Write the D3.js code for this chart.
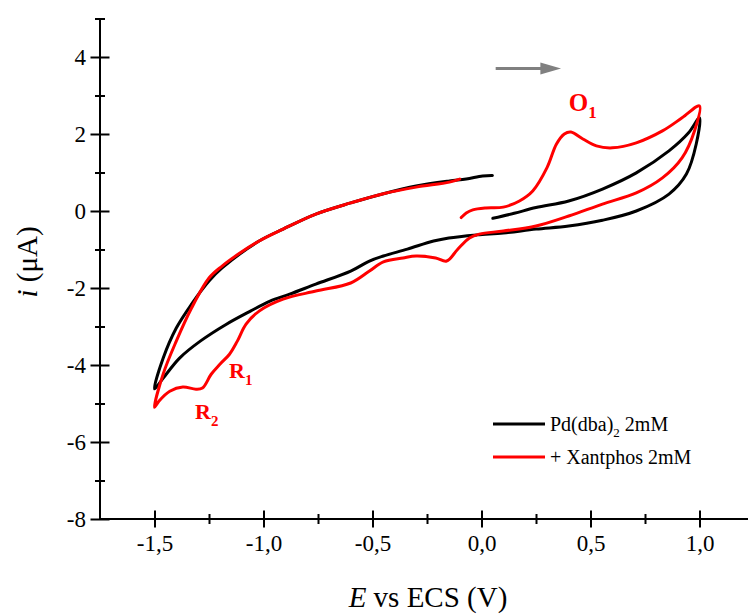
<!DOCTYPE html>
<html><head><meta charset="utf-8">
<script src="https://cdn.jsdelivr.net/npm/d3@7"></script>
<style>
body{margin:0;background:#fff;}
svg text{font-family:"Liberation Serif","Times New Roman",serif;}
</style></head>
<body><svg id="c" width="748" height="614"></svg>
<script>
// ---- data (E in V vs ECS, i in µA), in scan order ----
const blackV = [0.052,0.15,0.25,0.40,0.555,0.71,0.86,0.95,1.0,
  0.985,0.94,0.86,0.71,0.555,0.40,0.25,0.10,-0.02,-0.15,-0.22,-0.34,-0.45,-0.514,-0.60,-0.76,-0.88,-0.97,-1.06,-1.17,-1.29,-1.385,-1.46,-1.50,
  -1.46,-1.40,-1.33,-1.25,-1.19,-1.02,-0.91,-0.76,-0.60,-0.45,-0.30,-0.147,-0.07,0.005,0.05];
const blackI = [-0.19,-0.06,0.09,0.26,0.57,0.99,1.56,2.03,2.42,
  1.74,0.96,0.44,0.0,-0.24,-0.39,-0.47,-0.57,-0.62,-0.70,-0.78,-0.99,-1.17,-1.30,-1.56,-1.90,-2.16,-2.34,-2.60,-2.94,-3.38,-3.82,-4.34,-4.62,
  -3.82,-3.04,-2.42,-1.82,-1.48,-0.78,-0.47,-0.08,0.21,0.45,0.65,0.78,0.83,0.91,0.92];
const redV = [-0.093,-0.07,-0.04,0.02,0.10,0.174,0.235,0.30,0.344,0.38,0.41,0.465,0.527,0.60,0.71,0.83,0.92,1.0,
  0.977,0.92,0.83,0.71,0.555,0.40,0.25,0.10,-0.01,-0.055,-0.11,-0.16,-0.21,-0.30,-0.36,-0.45,-0.514,-0.60,-0.76,-0.91,-1.02,-1.08,-1.12,-1.156,-1.20,-1.24,-1.28,-1.31,-1.37,-1.43,-1.48,-1.50,
  -1.46,-1.40,-1.33,-1.25,-1.19,-1.11,-1.02,-0.91,-0.76,-0.60,-0.45,-0.30,-0.147,-0.10];
const redI = [-0.17,-0.05,0.03,0.08,0.10,0.26,0.52,1.12,1.74,2.0,2.05,1.87,1.69,1.64,1.77,2.08,2.42,2.73,
  2.08,1.38,0.86,0.47,0.18,-0.13,-0.39,-0.52,-0.60,-0.70,-1.0,-1.30,-1.22,-1.17,-1.22,-1.32,-1.56,-1.87,-2.08,-2.29,-2.60,-2.94,-3.38,-3.72,-3.98,-4.24,-4.60,-4.63,-4.57,-4.68,-4.94,-5.10,
  -4.23,-3.38,-2.52,-1.74,-1.43,-1.10,-0.78,-0.47,-0.08,0.21,0.45,0.62,0.75,0.83];
const xMajor = [-1.5,-1.0,-0.5,0.0,0.5,1.0];
const xMinor = [-1.25,-0.75,-0.25,0.25,0.75,1.25];
const yMajor = [-8,-6,-4,-2,0,2,4];
const yMinor = [-7,-5,-3,-1,1,3,5];
const seriesNames = ["Pd(dba)", "+ Xantphos 2mM"];
const seriesColors = ["#000000", "#ff0000"];

const svg = d3.select("#c");
const x = d3.scaleLinear().domain([-1.75, 1.25]).range([100, 754]);
const y = d3.scaleLinear().domain([-8, 5]).range([519, 18.5]);
const fmt = d => d3.format(".1f")(d).replace(".", ",").replace("−","-");

// y axis
const gy = svg.append("g").attr("transform","translate(100,0)")
  .call(d3.axisLeft(y).tickValues(yMajor).tickSize(0).tickPadding(14).tickFormat(d=>String(d)));
gy.select(".domain").attr("stroke","#000").attr("stroke-width",2).attr("d",`M0,${y(5)}V${y(-8)}`);
gy.selectAll(".tick line").attr("x1",-9.5).attr("x2",9.5).attr("stroke","#000").attr("stroke-width",2);
gy.selectAll(".tick text").attr("font-size",23).attr("font-family","Liberation Serif").attr("fill","#000");
const gy2 = svg.append("g").attr("transform","translate(100,0)")
  .call(d3.axisLeft(y).tickValues(yMinor).tickSize(0).tickFormat(""));
gy2.select(".domain").remove();
gy2.selectAll(".tick line").attr("x1",-5).attr("x2",5).attr("stroke","#000").attr("stroke-width",2);

// x axis
const gx = svg.append("g").attr("transform","translate(0,519)")
  .call(d3.axisBottom(x).tickValues(xMajor).tickSize(0).tickPadding(16).tickFormat(fmt));
gx.select(".domain").attr("stroke","#000").attr("stroke-width",2).attr("d","M99,0H754");
gx.selectAll(".tick line").attr("y1",-8.5).attr("y2",8.5).attr("stroke","#000").attr("stroke-width",2);
gx.selectAll(".tick text").attr("font-size",23).attr("font-family","Liberation Serif").attr("fill","#000");
const gx2 = svg.append("g").attr("transform","translate(0,519)")
  .call(d3.axisBottom(x).tickValues(xMinor).tickSize(0).tickFormat(""));
gx2.select(".domain").remove();
gx2.selectAll(".tick line").attr("y1",-5).attr("y2",5).attr("stroke","#000").attr("stroke-width",2);

// axis titles
const xt = svg.append("text").attr("x",428).attr("y",607).attr("text-anchor","middle")
  .attr("font-size",29).attr("fill","#000");
xt.append("tspan").attr("font-style","italic").text("E");
xt.append("tspan").text(" vs ECS (V)");
const yt = svg.append("text").attr("transform","translate(37,262) rotate(-90)").attr("text-anchor","middle")
  .attr("font-size",29).attr("fill","#000");
yt.append("tspan").attr("font-style","italic").text("i");
yt.append("tspan").text(" (μA)");

// curves
const line = d3.line().x(d=>x(d[0])).y(d=>y(d[1])).curve(d3.curveCatmullRom.alpha(0.5));
const blackPts = d3.zip(blackV, blackI);
const redPts = d3.zip(redV, redI);
svg.append("path").attr("d", line(blackPts)).attr("fill","none").attr("stroke",seriesColors[0])
  .attr("stroke-width",3).attr("stroke-linejoin","round").attr("stroke-linecap","round");
svg.append("path").attr("d", line(redPts)).attr("fill","none").attr("stroke",seriesColors[1])
  .attr("stroke-width",3).attr("stroke-linejoin","round").attr("stroke-linecap","round");

// scan direction arrow
const ay = y(3.7);
svg.append("line").attr("x1",x(0.065)).attr("x2",x(0.28)).attr("y1",ay).attr("y2",ay)
  .attr("stroke","#808080").attr("stroke-width",3);
svg.append("path").attr("d",`M${x(0.27)},${ay-6}L${x(0.365)},${ay}L${x(0.27)},${ay+6}Z`).attr("fill","#808080");

// peak labels
function peak(label, sub, v, i, size){
  const t = svg.append("text").attr("x",x(v)).attr("y",y(i)).attr("fill","#ff0000")
    .attr("font-size",size).attr("font-weight","bold");
  t.append("tspan").text(label);
  t.append("tspan").attr("dy",7).attr("font-size",size*0.68).text(sub);
}
peak("O","1",0.40,2.6,25);
peak("R","1",-1.158,-4.34,22);
peak("R","2",-1.314,-5.4,22);

// legend
const lg = svg.append("g");
lg.append("line").attr("x1",493).attr("x2",545).attr("y1",424).attr("y2",424).attr("stroke",seriesColors[0]).attr("stroke-width",3);
lg.append("line").attr("x1",493).attr("x2",545).attr("y1",457).attr("y2",457).attr("stroke",seriesColors[1]).attr("stroke-width",3);
const l1 = lg.append("text").attr("x",550).attr("y",431).attr("font-size",20).attr("fill","#000");
l1.append("tspan").text(seriesNames[0]);
l1.append("tspan").attr("dy",6).attr("font-size",13).text("2");
l1.append("tspan").attr("dy",-6).text(" 2mM");
lg.append("text").attr("x",550).attr("y",464).attr("font-size",20).attr("fill","#000").text(seriesNames[1]);
</script></body></html>
